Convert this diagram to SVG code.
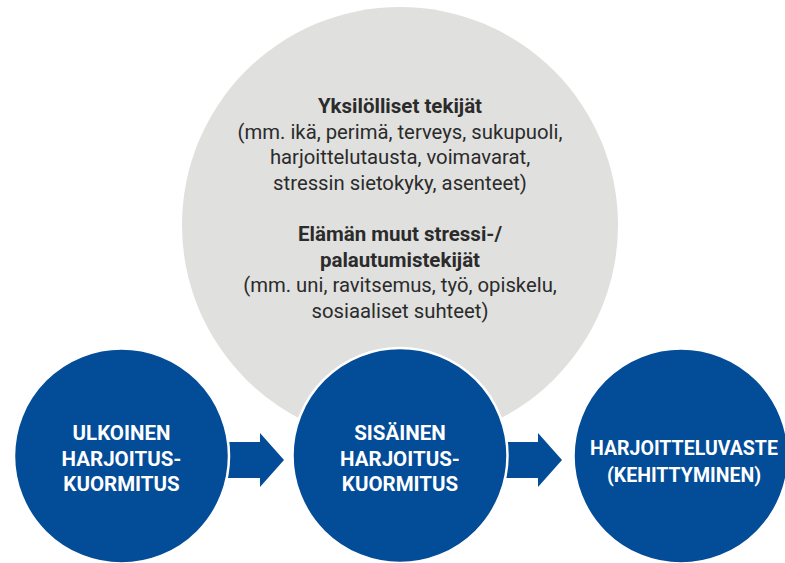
<svg xmlns="http://www.w3.org/2000/svg" width="785" height="563" viewBox="0 0 785 563">
  <style>
    .bg { fill: #ffffff; }
    .factors { fill: #e0e0df; }
    .stage { fill: #034c98; stroke: #ffffff; stroke-width: 2.5; }
    .arrow { fill: #034c98; }
    .stage-label { font-family: Roboto, "Liberation Sans", sans-serif; font-weight: bold; font-size: 20.5px; fill: #ffffff; text-anchor: middle; }
    .stage-label.wide { font-size: 19.5px; }
    .head { font-family: Roboto, "Liberation Sans", sans-serif; font-weight: bold; font-size: 20.5px; fill: #2b2b2b; text-anchor: middle; }
    .body { font-family: Roboto, "Liberation Sans", sans-serif; font-size: 20.3px; fill: #2b2b2b; text-anchor: middle; }
  </style>

  <rect class="bg" x="0" y="0" width="785" height="563"/>

  <!-- Background factors affecting internal load -->
  <g id="factors">
    <circle class="factors" cx="400" cy="225" r="218"/>
    <text class="head" x="400" y="113">Yksilölliset tekijät</text>
    <text class="body" x="400" y="138.5">(mm. ikä, perimä, terveys, sukupuoli,</text>
    <text class="body" x="400" y="164">harjoittelutausta, voimavarat,</text>
    <text class="body" x="400" y="189.5">stressin sietokyky, asenteet)</text>
    <text class="head" x="400" y="241">Elämän muut stressi-/</text>
    <text class="head" x="400" y="266.5">palautumistekijät</text>
    <text class="body" x="400" y="292">(mm. uni, ravitsemus, työ, opiskelu,</text>
    <text class="body" x="400" y="317.5">sosiaaliset suhteet)</text>
  </g>

  <!-- Block arrows between stages -->
  <g id="connectors">
    <polygon class="arrow" points="222,442 260,442 260,433 284,460 260,487 260,478 222,478"/>
    <polygon class="arrow" points="500,442 538,442 538,433 562,460 538,487 538,478 500,478"/>
  </g>

  <g id="external-load">
    <circle class="stage" cx="121.5" cy="456" r="107.5"/>
    <text class="stage-label" x="121.5" y="440">ULKOINEN</text>
    <text class="stage-label" x="121.5" y="466">HARJOITUS-</text>
    <text class="stage-label" x="121.5" y="491">KUORMITUS</text>
  </g>

  <g id="internal-load">
    <circle class="stage" cx="400" cy="455.5" r="107.5"/>
    <text class="stage-label" x="400" y="440">SISÄINEN</text>
    <text class="stage-label" x="400" y="466">HARJOITUS-</text>
    <text class="stage-label" x="400" y="491">KUORMITUS</text>
  </g>

  <g id="training-response">
    <circle class="stage" cx="681" cy="456" r="107.5"/>
    <text class="stage-label wide" x="684" y="455">HARJOITTELUVASTE</text>
    <text class="stage-label wide" x="684" y="482">(KEHITTYMINEN)</text>
  </g>
</svg>
